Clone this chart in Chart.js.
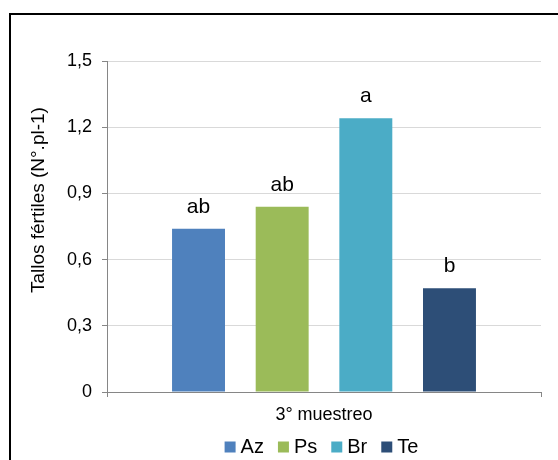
<!DOCTYPE html>
<html>
<head>
<meta charset="utf-8">
<script src="https://cdn.jsdelivr.net/npm/chart.js@4.4.1/dist/chart.umd.min.js"></script>
<style>
    html, body { margin: 0; padding: 0; background: #fff; }
    #marco { position: absolute; left: 0; top: 0; width: 558px; height: 460px; overflow: hidden; }
    #borde { position: absolute; left: 9px; top: 13px; width: 600px; height: 500px; border: 2px solid #000; }
    #grafico { position: absolute; left: 0; top: 0; }
</style>
</head>
<body>
<div id="marco">
    <div id="borde"></div>
    <canvas id="grafico" width="558" height="460"></canvas>
</div>
<script>
// Datos
const muestreos = ['3° muestreo'];
const tratamientos = ['Az', 'Ps', 'Br', 'Te'];
const valores = [0.74, 0.84, 1.24, 0.47];
const letras = ['ab', 'ab', 'a', 'b'];
const colores = ['#4F81BD', '#9BBB59', '#4BACC6', '#2D4E77'];

const fuente = '"Liberation Sans", Arial, sans-serif';
Chart.defaults.font.family = fuente;
Chart.defaults.color = '#000';

// Letras de significancia encima de cada barra
const etiquetasBarras = {
    id: 'etiquetasBarras',
    afterDatasetsDraw(chart) {
        const ctx = chart.ctx;
        ctx.save();
        ctx.font = '21px ' + fuente;
        ctx.fillStyle = '#000';
        ctx.textAlign = 'center';
        ctx.textBaseline = 'alphabetic';
        chart.data.datasets.forEach((ds, i) => {
            const barra = chart.getDatasetMeta(i).data[0];
            ctx.fillText(letras[i], barra.x, barra.y - 16);
        });
        ctx.restore();
    }
};

const datasets = tratamientos.map((nombre, i) => ({
    label: nombre,
    data: [valores[i]],
    backgroundColor: colores[i],
    borderWidth: 0,
    categoryPercentage: 0.771,
    barPercentage: 0.633
}));

// espacios al inicio para subir el título como en el original
const tituloY = '\u00a0'.repeat(10) + 'Tallos fértiles (N°.pl-1)';

new Chart(document.getElementById('grafico').getContext('2d'), {
    type: 'bar',
    data: { labels: muestreos, datasets: datasets },
    options: {
        responsive: false,
        animation: false,
        devicePixelRatio: 1,
        layout: { padding: { left: 0, right: 17, top: 61, bottom: -7 } },
        scales: {
            x: {
                grid: { display: true, drawOnChartArea: false, tickLength: 5, tickColor: '#868686' },
                border: { color: '#868686', width: 1 },
                ticks: { display: false },
                title: {
                    display: true,
                    text: muestreos[0],
                    font: { size: 18 },
                    color: '#000',
                    padding: { top: 0, bottom: -8 }
                },
                afterFit: function (scale) { scale.height = 26; }
            },
            y: {
                min: 0,
                max: 1.5,
                ticks: {
                    stepSize: 0.3,
                    padding: 10,
                    font: { size: 18 },
                    color: '#000',
                    callback: function (v) {
                        return v === 0 ? '0' : v.toFixed(1).replace('.', ',');
                    }
                },
                grid: { color: '#D9D9D9', tickLength: 5, tickColor: '#868686' },
                border: { color: '#868686', width: 1 },
                title: {
                    display: true,
                    text: tituloY,
                    font: { size: 19 },
                    color: '#000',
                    padding: { top: 27, bottom: 0 }
                },
                afterFit: function (scale) { scale.width = 107; }
            }
        },
        plugins: {
            tooltip: { enabled: false },
            legend: {
                position: 'bottom',
                fullSize: false,
                labels: {
                    usePointStyle: true,
                    pointStyle: 'rect',
                    boxWidth: 1,
                    boxHeight: 11,
                    padding: 19,
                    font: { size: 20 },
                    color: '#000'
                }
            }
        }
    },
    plugins: [etiquetasBarras]
});
</script>
</body>
</html>
